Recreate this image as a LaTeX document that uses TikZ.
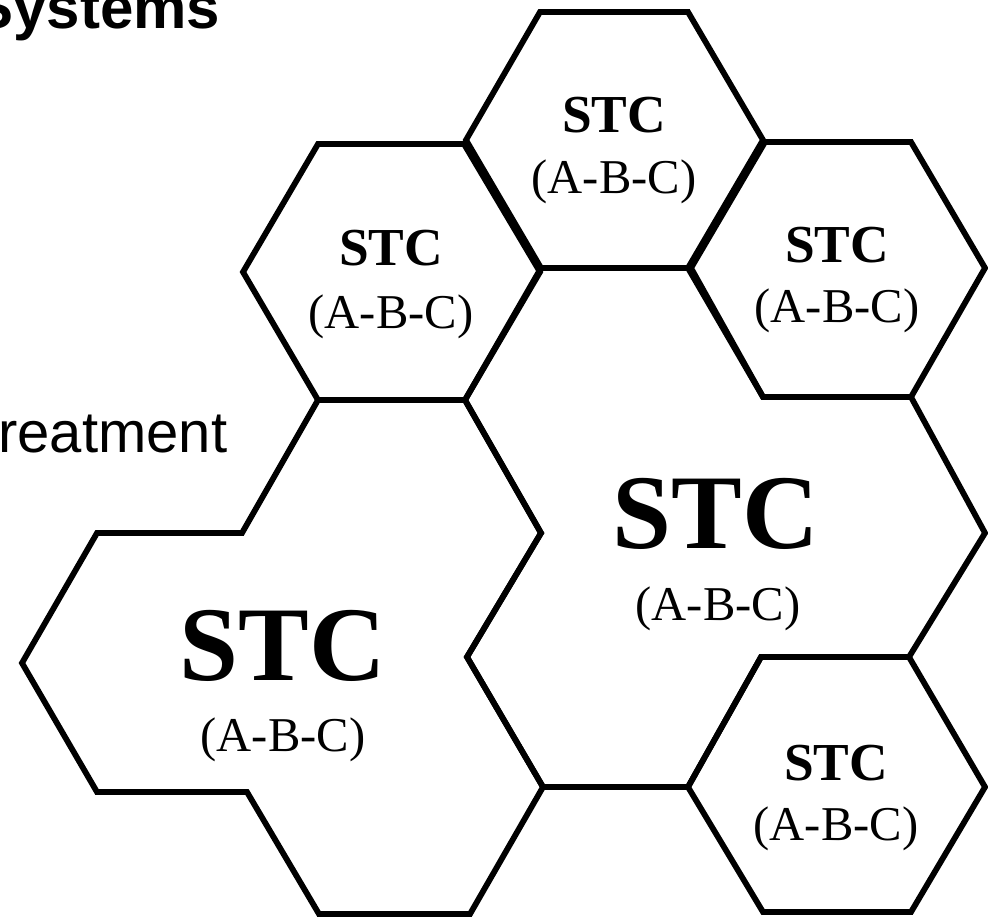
\documentclass[tikz,border=0pt]{standalone}
\usepackage{fontspec}
\setmainfont{Liberation Serif}
\newfontfamily\arialfont{Liberation Sans}
\begin{document}
\begin{tikzpicture}[x=0.5pt,y=-0.5pt,
  cell/.style={line width=2.9pt, line join=miter, miter limit=10},
  stc/.style={inner sep=0, anchor=base, font=\fontsize{26.7}{30}\selectfont\bfseries},
  bigstc/.style={inner sep=0, anchor=base, font=\fontsize{53}{60}\selectfont\bfseries},
  abc/.style={inner sep=0, anchor=base, font=\fontsize{24.3}{28}\selectfont},
  side/.style={inner sep=0, anchor=base west, font=\arialfont\fontsize{29}{32}\selectfont},
  headline/.style={inner sep=0, anchor=base west, font=\arialfont\fontsize{30}{34}\selectfont\bfseries}]
\useasboundingbox (0,0) rectangle (988,917);

% left merged cell (D)
\draw[cell] (318,400) -- (242,533) -- (97,533) -- (22,663) -- (97,792) -- (247,792)
  -- (319,914) -- (470,914) -- (543,787) -- (467,657) -- (541,533) -- (465,400) -- cycle;
% right merged cell (E)
\draw[cell] (541,268) -- (688,268) -- (763,397) -- (911,397) -- (985,533) -- (909,657)
  -- (761,657) -- (688,787) -- (543,787) -- (467,657) -- (541,533) -- (465,400) -- cycle;
% small hexagons
\draw[cell] (318,144) -- (464,144) -- (540,272) -- (465,400) -- (318,400) -- (243,272) -- cycle;
\draw[cell] (540,12) -- (688,12) -- (763,140) -- (688,268) -- (541,268) -- (466,140) -- cycle;
\draw[cell] (765,142) -- (911,142) -- (985,268) -- (911,397) -- (763,397) -- (691,268) -- cycle;
\draw[cell] (761,657) -- (909,657) -- (985,787) -- (911,912) -- (763,912) -- (688,787) -- cycle;

% texts
\node[stc] (stcA) at (391,265) {STC};
\node[abc] (abcA) at (391,328) {(A-B-C)};
\node[stc] (stcB) at (614,132) {STC};
\node[abc] (abcB) at (614,193) {(A-B-C)};
\node[stc] (stcC) at (837,262) {STC};
\node[abc] (abcC) at (837,322) {(A-B-C)};
\node[stc] (stcF) at (836,780) {STC};
\node[abc] (abcF) at (836,840) {(A-B-C)};
\node[bigstc] (stcD) at (283,680) {STC};
\node[abc] (abcD) at (283,751) {(A-B-C)};
\node[bigstc] (stcE) at (716,548) {STC};
\node[abc] (abcE) at (718,620) {(A-B-C)};

\node[headline] (title) at (-27,28) {Systems};
\node[side] (treat) at (-2,452) {reatment};
\end{tikzpicture}
\end{document}
